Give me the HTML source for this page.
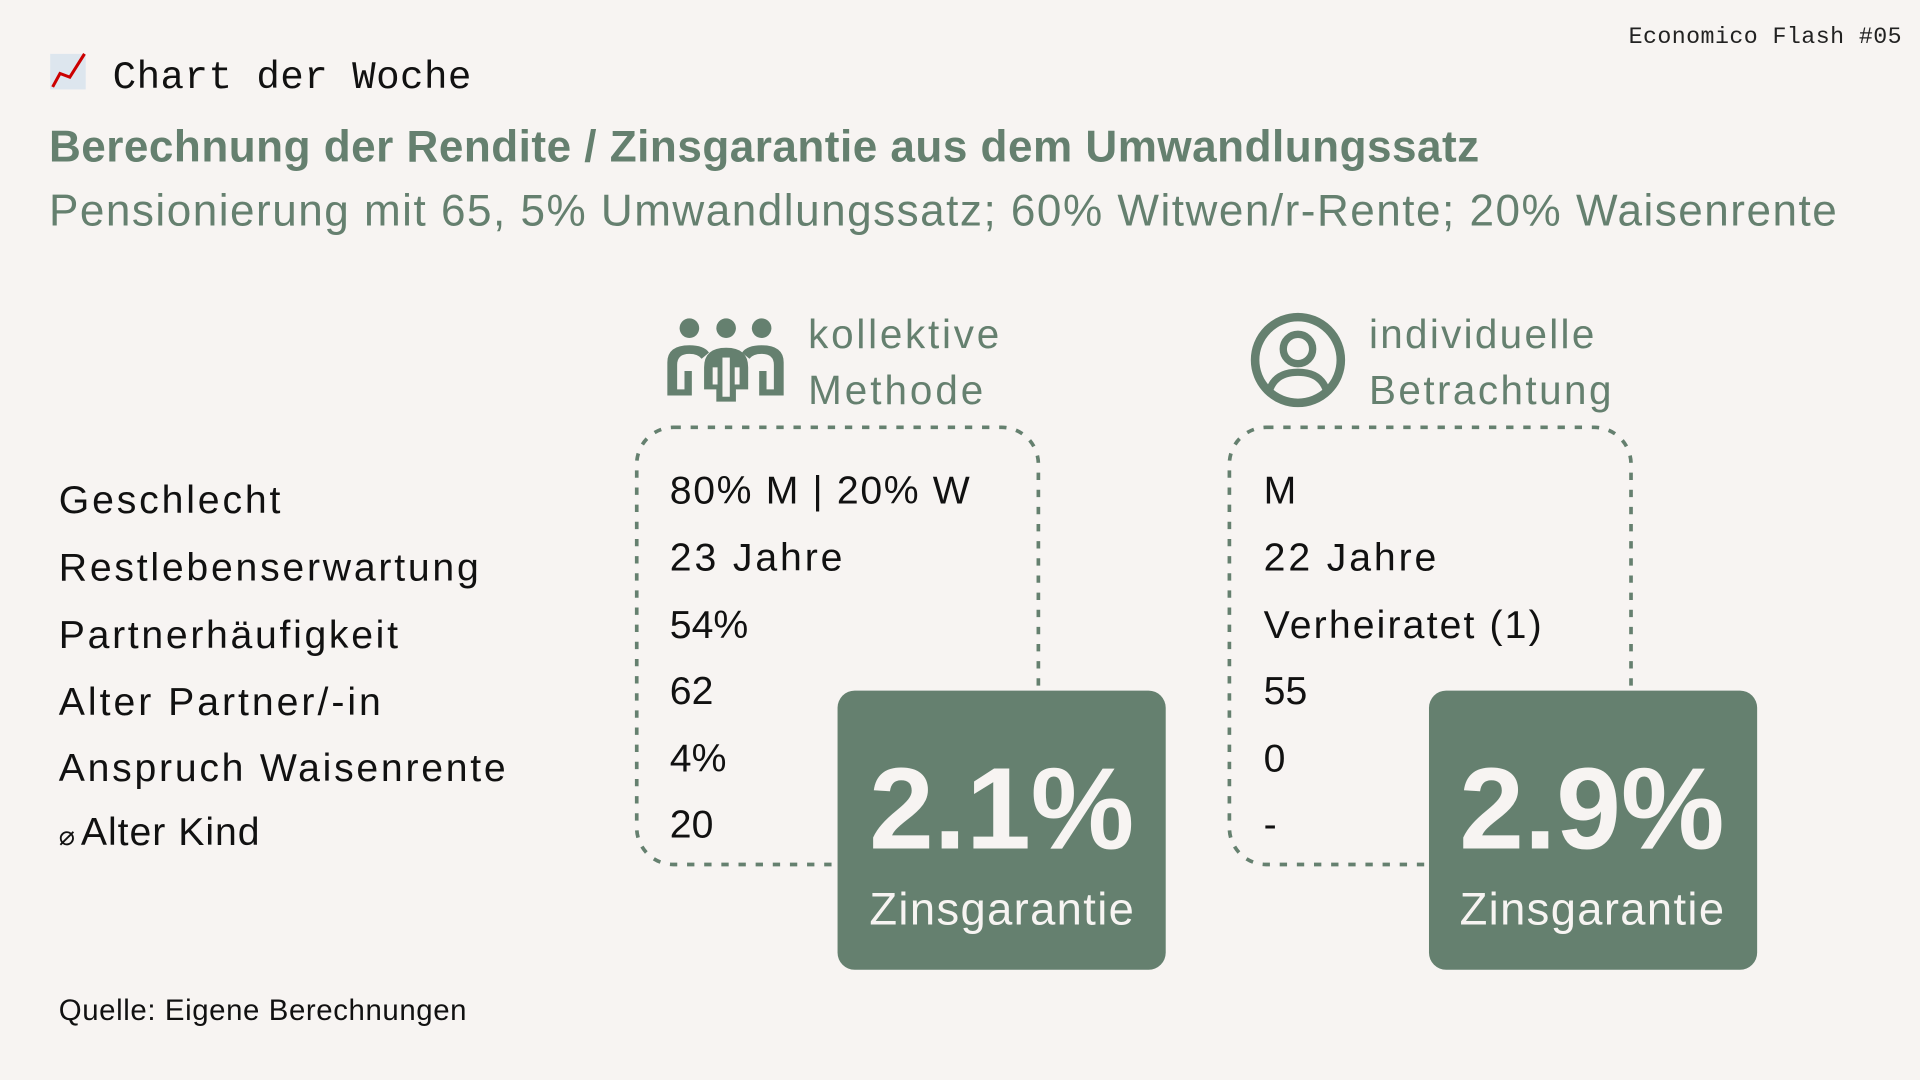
<!DOCTYPE html>
<html><head><meta charset="utf-8"><style>
html,body{margin:0;padding:0;background:#f7f4f2;}
svg{display:block;}
text{font-family:"Liberation Sans",sans-serif;}
.m{font-family:"Liberation Mono",monospace;}
</style></head><body>
<svg width="1920" height="1080" viewBox="0 0 1568 882" xmlns="http://www.w3.org/2000/svg">
<rect width="1568" height="882" fill="#f7f4f2"/>
<text class="m" x="1553" y="35" font-size="19" text-anchor="end" fill="#222" textLength="223">Economico Flash #05</text>
<rect x="41" y="44" width="29" height="29" fill="#dde6ee"/>
<polyline points="43,71 49,60 57,63 69,44" fill="none" stroke="#c00" stroke-width="2.5"/>
<text class="m" x="92" y="72" font-size="32" fill="#111" textLength="293">Chart der Woche</text>
<text x="40" y="132" font-size="36" font-weight="bold" fill="#65806f" textLength="1168">Berechnung der Rendite / Zinsgarantie aus dem Umwandlungssatz</text>
<text x="40" y="184" font-size="36" fill="#65806f" textLength="1460">Pensionierung mit 65, 5% Umwandlungssatz; 60% Witwen/r-Rente; 20% Waisenrente</text>

<g fill="#65806f">
<circle cx="563" cy="268" r="8"/><circle cx="593" cy="268" r="8"/><circle cx="622" cy="268" r="8"/>
<path d="M545,296 q0,-14 18,-14 q12,0 16,6 l-6,5 q-3,-4 -10,-4 q-10,0 -10,9 l0,20 l6,0 l0,-15 l6,0 l0,20 l-20,0 z"/>
<path d="M640,296 q0,-14 -18,-14 q-12,0 -16,6 l6,5 q3,-4 10,-4 q10,0 10,9 l0,20 l-6,0 l0,-15 l-6,0 l0,20 l20,0 z"/>
<path d="M575,300 q0,-16 18,-16 q18,0 18,16 l0,18 l-10,0 l0,10 l-16,0 l0,-10 l-10,0 z" />
</g>
<rect x="590" y="292" width="6" height="32" fill="#f7f4f2"/>
<rect x="582" y="300" width="4" height="14" fill="#f7f4f2"/><rect x="600" y="300" width="4" height="14" fill="#f7f4f2"/>
<text x="660" y="284" font-size="33" fill="#65806f" textLength="156">kollektive</text>
<text x="660" y="330" font-size="33" fill="#65806f" textLength="143">Methode</text>

<circle cx="1060" cy="294" r="35" fill="none" stroke="#65806f" stroke-width="7"/>
<circle cx="1060" cy="285" r="12" fill="none" stroke="#65806f" stroke-width="6"/>
<path d="M1037,318 q5,-14 23,-14 q18,0 23,14" fill="none" stroke="#65806f" stroke-width="6"/>
<text x="1118" y="284" font-size="33" fill="#65806f" textLength="184">individuelle</text>
<text x="1118" y="330" font-size="33" fill="#65806f" textLength="198">Betrachtung</text>

<rect x="520" y="349" width="328" height="357" rx="30" fill="none" stroke="#65806f" stroke-width="3" stroke-dasharray="6,8"/>
<rect x="1004" y="349" width="328" height="357" rx="30" fill="none" stroke="#65806f" stroke-width="3" stroke-dasharray="6,8"/>

<g font-size="32" fill="#111">
<text x="48" y="419" textLength="181">Geschlecht</text>
<text x="48" y="474" textLength="343">Restlebenserwartung</text>
<text x="48" y="529" textLength="277">Partnerhäufigkeit</text>
<text x="48" y="584" textLength="263">Alter Partner/-in</text>
<text x="48" y="638" textLength="365">Anspruch Waisenrente</text>
<text x="48" y="690" font-size="22">⌀</text>
<text x="66" y="690" textLength="146">Alter Kind</text>
</g>
<g font-size="32" fill="#111">
<text x="547" y="411" textLength="245">80% M | 20% W</text>
<text x="547" y="466" textLength="141">23 Jahre</text>
<text x="547" y="521">54%</text>
<text x="547" y="575">62</text>
<text x="547" y="630">4%</text>
<text x="547" y="684">20</text>
<text x="1032" y="411">M</text>
<text x="1032" y="466" textLength="141">22 Jahre</text>
<text x="1032" y="521" textLength="227">Verheiratet (1)</text>
<text x="1032" y="575">55</text>
<text x="1032" y="630">0</text>
<text x="1032" y="684">-</text>
</g>

<rect x="684" y="564" width="268" height="228" rx="14" fill="#65806f"/>
<text x="818" y="693" font-size="95" font-weight="bold" fill="#f7f4f2" text-anchor="middle">2.1%</text>
<text x="818" y="755" font-size="37" fill="#f7f4f2" text-anchor="middle" textLength="216">Zinsgarantie</text>
<rect x="1167" y="564" width="268" height="228" rx="14" fill="#65806f"/>
<text x="1300" y="693" font-size="95" font-weight="bold" fill="#f7f4f2" text-anchor="middle">2.9%</text>
<text x="1300" y="755" font-size="37" fill="#f7f4f2" text-anchor="middle" textLength="216">Zinsgarantie</text>

<text x="48" y="833" font-size="24" fill="#111" textLength="333">Quelle: Eigene Berechnungen</text>
</svg>
</body></html>
